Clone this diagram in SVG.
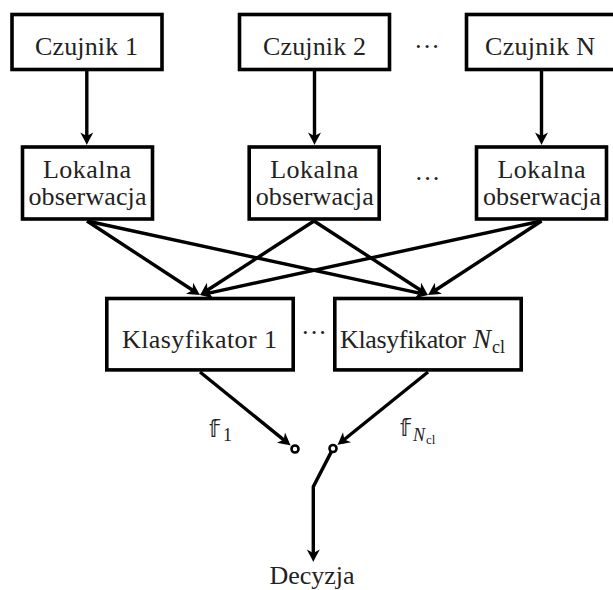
<svg xmlns="http://www.w3.org/2000/svg" width="613" height="590" viewBox="0 0 613 590">
<style>
.box{fill:#fff;stroke:#000;stroke-width:3.6}
.t{font-family:"Liberation Serif","Times New Roman",serif;font-size:26px;fill:#222;text-anchor:middle}
.ln{fill:none;stroke:#000;stroke-width:3.4;marker-end:url(#ah)}
.dot{fill:#fff;stroke:#000;stroke-width:2.6}
.bb{font-family:"DejaVu Sans",sans-serif;font-size:23px;fill:#222}
.sub{font-family:"Liberation Serif","Times New Roman",serif;font-size:18px;fill:#222}
</style>
<defs>
<marker id="ah" markerUnits="userSpaceOnUse" viewBox="-10 -10 20 20" markerWidth="20" markerHeight="20" refX="0" refY="0" orient="auto" overflow="visible">
<path d="M6.5,0 C3,-1.5 -1,-4 -6,-6.5 L-2.5,0 L-6,6.5 C-1,4 3,1.5 6.5,0 Z" fill="#000"/>
</marker>
</defs>
<g id="connectors">
<line class="ln" x1="86.8" y1="71" x2="86.8" y2="138.5"/>
<line class="ln" x1="314.5" y1="71" x2="314.5" y2="138.5"/>
<line class="ln" x1="541.5" y1="71" x2="541.5" y2="138.5"/>
<line class="ln" x1="87" y1="221" x2="194.6" y2="291.5"/>
<line class="ln" x1="87" y1="221" x2="421.6" y2="293.6"/>
<line class="ln" x1="314" y1="221" x2="205.4" y2="291.5"/>
<line class="ln" x1="314" y1="221" x2="422.6" y2="291.5"/>
<line class="ln" x1="541.5" y1="221" x2="206.4" y2="293.6"/>
<line class="ln" x1="541.5" y1="221" x2="433.4" y2="291.5"/>
<line class="ln" x1="200" y1="372" x2="285.6" y2="441.4"/>
<line class="ln" x1="428" y1="372" x2="342.4" y2="441"/>
<polyline class="ln" points="331.4,451.6 313.3,486.7 313.3,555.5"/>
</g>
<g id="czujnik1"><rect class="box" x="12" y="14.5" width="150" height="55"/><text class="t" x="86.5" y="55" textLength="103">Czujnik 1</text></g>
<g id="czujnik2"><rect class="box" x="239.5" y="14.5" width="150" height="55"/><text class="t" x="314.5" y="55" textLength="103">Czujnik 2</text></g>
<g id="dots1"><text class="t" x="427" y="55">···</text></g>
<g id="czujnikN"><rect class="box" x="466.5" y="14.5" width="150" height="55"/><text class="t" x="540" y="55" textLength="110">Czujnik N</text></g>
<g id="obs1"><rect class="box" x="22.5" y="147" width="130" height="72"/><text class="t" x="87" y="178" textLength="88">Lokalna</text><text class="t" x="87.5" y="205" textLength="118">obserwacja</text></g>
<g id="obs2"><rect class="box" x="249.2" y="147" width="130" height="72"/><text class="t" x="314.2" y="178" textLength="88">Lokalna</text><text class="t" x="314.7" y="205" textLength="118">obserwacja</text></g>
<g id="dots2"><text class="t" x="427.5" y="187">···</text></g>
<g id="obs3"><rect class="box" x="476.5" y="147" width="130" height="72"/><text class="t" x="541.5" y="178" textLength="88">Lokalna</text><text class="t" x="542" y="205" textLength="118">obserwacja</text></g>
<g id="klas1"><rect class="box" x="106.8" y="298.5" width="186.4" height="71.4"/><text class="t" x="199.5" y="348" textLength="155">Klasyfikator 1</text></g>
<g id="dots3"><text class="t" x="314" y="341">···</text></g>
<g id="klasN"><rect class="box" x="334.8" y="298.5" width="186.4" height="71.4"/><text class="t" x="403" y="348" textLength="126">Klasyfikator</text><text x="473" y="348" style="font-family:'Liberation Serif',serif;font-size:27px;font-style:italic;fill:#222">N</text><text class="sub" x="492" y="353" style="font-size:18px">cl</text></g>
<g id="f1"><text class="bb" x="209" y="437">𝕗</text><text class="sub" x="223" y="441">1</text></g>
<g id="fN"><text class="bb" x="400" y="436">𝕗</text><text class="sub" x="413" y="441" style="font-style:italic">N</text><text class="sub" x="426" y="444" style="font-size:13px">cl</text></g>
<g id="switch"><circle class="dot" cx="295" cy="449" r="3.5"/><circle class="dot" cx="333" cy="448.5" r="3.5"/></g>
<g id="decision"><text class="t" x="312" y="584" textLength="85">Decyzja</text></g>
</svg>
